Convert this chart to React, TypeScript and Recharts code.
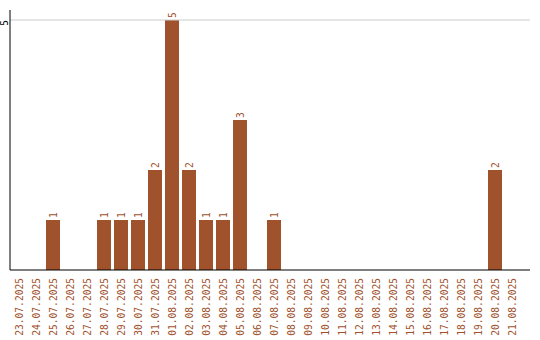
import { BarChart, Bar, XAxis, YAxis, ReferenceLine, LabelList } from "recharts"

const dates = [
  "23.07.2025", "24.07.2025", "25.07.2025", "26.07.2025", "27.07.2025",
  "28.07.2025", "29.07.2025", "30.07.2025", "31.07.2025", "01.08.2025",
  "02.08.2025", "03.08.2025", "04.08.2025", "05.08.2025", "06.08.2025",
  "07.08.2025", "08.08.2025", "09.08.2025", "10.08.2025", "11.08.2025",
  "12.08.2025", "13.08.2025", "14.08.2025", "15.08.2025", "16.08.2025",
  "17.08.2025", "18.08.2025", "19.08.2025", "20.08.2025", "21.08.2025",
]

const counts = [
  0, 0, 1, 0, 0,
  1, 1, 1, 2, 5,
  2, 1, 1, 3, 0,
  1, 0, 0, 0, 0,
  0, 0, 0, 0, 0,
  0, 0, 0, 2, 0,
]

const yTicks = [5]

const BROWN = "#a0522d"
const FONT = "'DejaVu Sans Mono', monospace"

const data = dates.map((d, i) => ({ date: d, count: counts[i] }))

// x tick: y already sits a few px under the axis line
function DateTick(props: any) {
  const { x, y, payload } = props
  return (
    <g transform={`translate(${x},${y})`}>
      <text transform="rotate(-90)" x={0} y={4} textAnchor="end" fill={BROWN} fontSize={9.6} fontFamily={FONT}>
        {payload.value}
      </text>
    </g>
  )
}

function CountTick(props: any) {
  const { y, payload } = props
  return (
    <g transform={`translate(0,${y})`}>
      <text transform="rotate(-90)" x={0} y={8} textAnchor="end" fill="#000" fontSize={9.6} fontFamily={FONT}>
        {payload.value}
      </text>
    </g>
  )
}

function ValueLabel(props: any) {
  const { x, y, width, value } = props
  if (!value) return null
  return (
    <g transform={`translate(${x + width / 2},${y})`}>
      <text transform="rotate(-90)" x={2} y={4} textAnchor="start" fill={BROWN} fontSize={9.6} fontFamily={FONT}>
        {value}
      </text>
    </g>
  )
}

export default function App() {
  return (
    <div style={{ position: "absolute", left: 0, top: 0, background: "#fff" }}>
      <BarChart width={540} height={340} data={data} margin={{ top: 10, right: 10, left: 0, bottom: 0 }}>
        <XAxis
          dataKey="date"
          interval={0}
          height={70}
          tick={<DateTick />}
          tickLine={false}
          axisLine={{ stroke: "#000" }}
          padding={{ left: 0, right: 10 }}
        />
        <YAxis
          width={10}
          domain={[0, 5.2]}
          ticks={yTicks}
          tick={<CountTick />}
          tickLine={false}
          axisLine={{ stroke: "#000" }}
        />
        <ReferenceLine y={5} stroke="#cccccc" />
        <Bar dataKey="count" fill={BROWN} barSize={14} isAnimationActive={false}>
          <LabelList dataKey="count" content={<ValueLabel />} />
        </Bar>
      </BarChart>
    </div>
  )
}
